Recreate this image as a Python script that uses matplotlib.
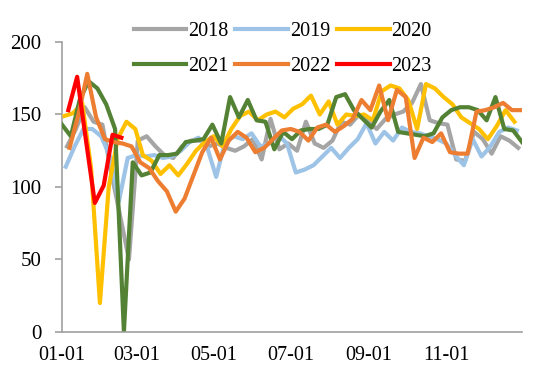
import pandas as pd
import matplotlib
matplotlib.use('Agg')
import matplotlib.pyplot as plt
import matplotlib.dates as mdates

# weekly values, one list per year (first Friday of each year onward)
years = ['2018', '2019', '2020', '2021', '2022', '2023']
start_dates = ['2018-01-05', '2019-01-04', '2020-01-03', '2021-01-01', '2022-01-07', '2023-01-06']

v2018 = [128, 140, 155, 145, 143, 110, 80, 50, 132, 135, 128, 122,
         120, 128, 132, 132, 128, 130, 127, 125, 128,
         133, 119, 147, 126, 130, 125, 145, 130, 127, 132,
         145, 143, 150, 145, 140, 147, 150, 152, 158, 171, 146, 144, 143,
         119, 118, 138, 133, 123, 135, 132, 127]
v2019 = [114, 128, 140, 140, 135, 121, 90, 120, 122, 121,
         122, 120, 121, 125, 131, 134, 127, 107, 131, 135, 133,
         137, 128, 130, 136, 130, 110, 112, 115, 121, 127, 120,
         127, 133, 144, 130, 138, 132, 141, 138, 137, 135, 133, 130,
         122, 115, 133, 121, 128, 138, 141, 139]
v2020 = [149, 151, 158, 113, 20, 100, 133, 145, 140, 122,
         118, 109, 115, 108, 116, 125, 131, 135, 128, 140, 149,
         152, 146, 150, 152, 148, 154, 157, 163, 150, 159, 143,
         150, 149, 150, 146, 166, 170, 168, 160, 140, 171, 168, 162,
         157, 148, 144, 140, 133, 142, 153, 145]
v2021 = [143, 135, 160, 173, 168, 157, 140, 0, 117, 108,
         110, 122, 122, 123, 131, 132, 133, 143, 130, 162, 148, 160,
         146, 145, 126, 138, 133, 139, 140, 140, 143,
         162, 164, 153, 147, 141, 152, 160, 138, 137, 136, 135, 137,
         148, 153, 155, 155, 153, 146, 162, 140, 139, 131]
v2022 = [127, 150, 178, 148, 133, 131, 130, 128, 117, 113,
         104, 97, 83, 92, 108, 124, 134, 119, 132, 138, 134,
         124, 127, 133, 139, 140, 138, 132, 141, 143, 138,
         142, 147, 160, 153, 170, 146, 167, 162, 120, 134, 131, 137,
         124, 123, 123, 152, 153, 155, 158, 153, 153]
v2023 = [153, 176, 132, 89, 101, 136, 134]

series = [v2018, v2019, v2020, v2021, v2022, v2023]
colors = ['#A5A5A5', '#9DC3E6', '#FFC000', '#548235', '#ED7D31', '#FF0000']

plt.rcParams['font.family'] = ['Liberation Serif', 'DejaVu Serif']

fig = plt.figure(figsize=(5.5, 3.81), dpi=100)
ax = fig.add_axes([0.1127, 0.1286, 0.9491 - 0.1127, 0.8898 - 0.1286])

lines = {}
for name, start, vals, c in zip(years, start_dates, series, colors):
    dates = pd.date_range(start, periods=len(vals), freq='7D')
    dates = [d.replace(year=2001) for d in dates]
    ln, = ax.plot(dates, vals, color=c, lw=3.0, solid_joinstyle='round', label=name)
    lines[name] = ln

ax.set_xlim(pd.Timestamp('2001-01-01'), pd.Timestamp('2001-12-31'))
ax.set_ylim(0, 200)
ax.set_yticks([0, 50, 100, 150, 200])
ax.xaxis.set_major_locator(mdates.MonthLocator(bymonth=[1, 3, 5, 7, 9, 11]))
ax.xaxis.set_major_formatter(mdates.DateFormatter('%m-%d'))

for s in ['top', 'right']:
    ax.spines[s].set_visible(False)
for s in ['left', 'bottom']:
    ax.spines[s].set_color('#A0A0A0')
    ax.spines[s].set_linewidth(1.2)
ax.spines['left'].set_zorder(0)
ax.tick_params(axis='y', length=5, width=1.2, color='#A0A0A0', labelsize=15, pad=10)
ax.tick_params(axis='x', length=0, labelsize=14.5, pad=10)

# legend: row 1 = 2018-2020, row 2 = 2021-2023 (matplotlib fills columns first)
order = ['2018', '2021', '2019', '2022', '2020', '2023']
fig.legend([lines[k] for k in order], order, ncol=3, loc='center',
           bbox_to_anchor=(0.514, 0.871), frameon=False, fontsize=14.5,
           handlelength=2.6, handletextpad=0.1, columnspacing=0.35,
           labelspacing=0.8, borderaxespad=0)

plt.savefig('out.png', dpi=100)
plt.close()
